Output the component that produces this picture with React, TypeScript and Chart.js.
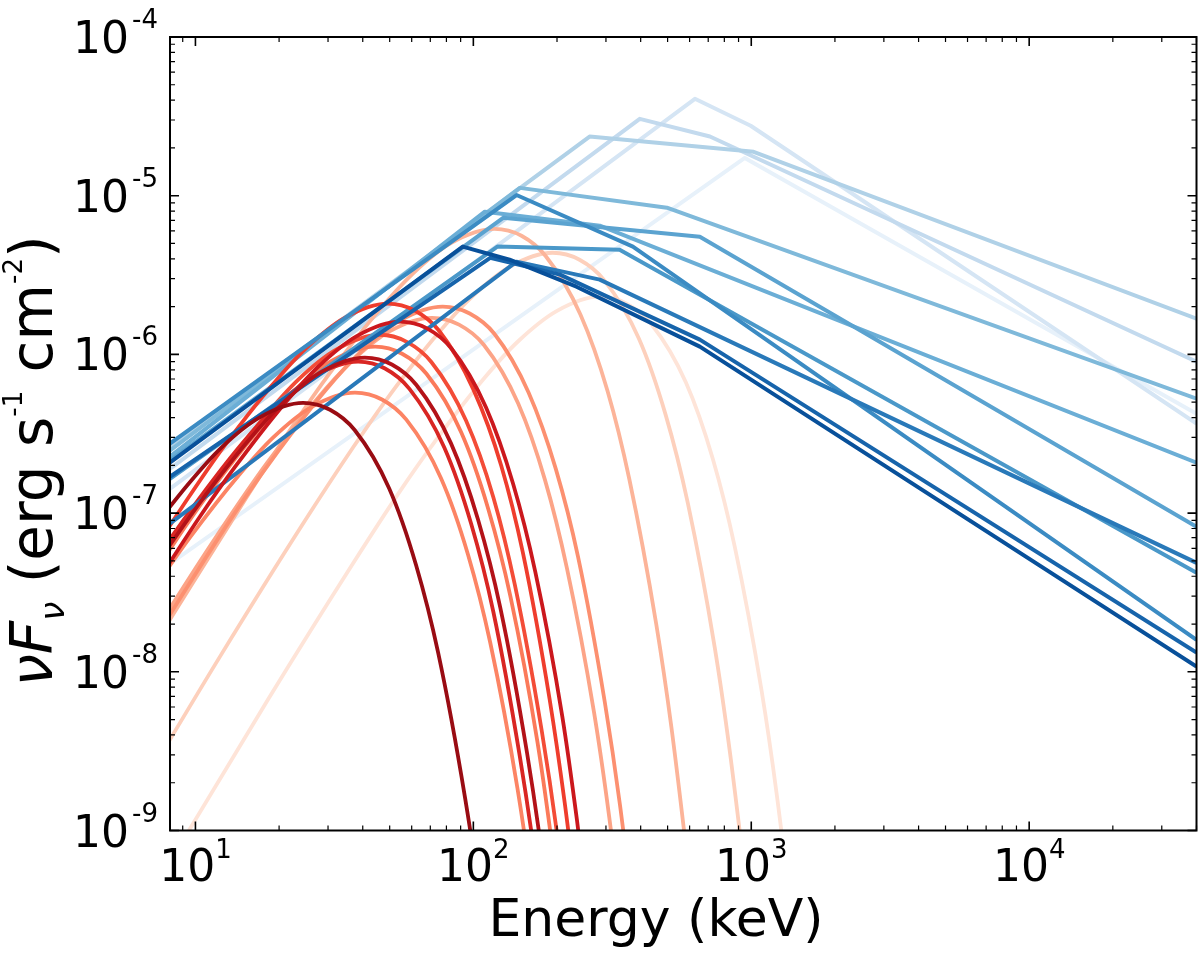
import { useEffect, useRef } from "react";
import { Chart, registerables } from "chart.js";

Chart.register(...registerables);

// Band-function fits: energy (keV) and nuFnu (erg s^-1 cm^-2), earliest bin first
const bandEnergy: number[][] = [
  [8, 948, 40000],
  [8, 627, 995, 40000],
  [8, 397, 710, 40000],
  [8, 262, 1020, 40000],
  [8, 147, 497, 40000],
  [8, 110, 285, 40000],
  [8, 128, 653, 40000],
  [8, 122, 336, 40000],
  [8, 143, 375, 40000],
  [8, 143, 285, 40000],
  [8, 115, 205, 653, 40000],
  [8, 91.6, 135, 235, 653, 40000],
];
const bandFlux: number[][] = [
  [4.73e-8, 1.73e-5, 4.23e-7],
  [1.4e-7, 4.08e-5, 2.76e-5, 3.66e-7],
  [1.87e-7, 3.05e-5, 2.36e-5, 9.0e-7],
  [2.58e-7, 2.36e-5, 1.89e-5, 1.68e-6],
  [2.44e-7, 1.12e-5, 8.4e-6, 5.26e-7],
  [2.23e-7, 7.93e-6, 6.47e-6, 2.08e-7],
  [2.11e-7, 7.26e-6, 5.52e-6, 8.2e-8],
  [1.62e-7, 4.78e-6, 4.57e-6, 4.21e-8],
  [2.7e-7, 1.01e-5, 4.78e-6, 1.59e-8],
  [8.45e-8, 3.84e-6, 2.96e-6, 4.86e-8],
  [1.67e-7, 4.06e-6, 3.18e-6, 1.24e-6, 1.32e-8],
  [2.05e-7, 4.78e-6, 3.95e-6, 2.67e-6, 1.12e-6, 1.08e-8],
];

// blackbody components, hottest (earliest) first
const bbEnergy: number[][] = [
  [4.56, 9.09, 18.2, 36.4, 54.4, 72.7, 109, 145, 200, 285, 356, 436, 582, 727, 872, 1091, 1236, 1454],
  [6.16, 12.3, 24.6, 36.9, 49.2, 73.9, 98.4, 135, 193, 241, 295, 394, 492, 591, 739, 837, 985],
  [7.59, 15.2, 22.7, 30.3, 45.6, 60.7, 83.3, 119, 149, 182, 243, 304, 364, 455, 516, 607],
  [4.53, 9.06, 13.6, 18.1, 27.2, 36.2, 49.7, 71, 88.8, 109, 145, 181, 217, 272, 308, 362],
  [4.95, 9.9, 14.8, 19.8, 29.7, 39.6, 54.3, 77.6, 97.0, 119, 158, 198, 238, 297, 337, 396],
  [4.79, 7.16, 9.56, 14.4, 19.1, 26.3, 37.5, 46.9, 57.4, 76.5, 95.7, 115, 144, 163, 191],
  [5.65, 8.46, 11.3, 17.0, 22.6, 31.0, 44.3, 55.4, 67.8, 90.4, 113, 136, 170, 192, 226],
  [5.88, 8.81, 11.8, 17.7, 23.5, 32.3, 46.1, 57.6, 70.6, 94.1, 118, 141, 176, 200, 235],
  [6.28, 9.4, 12.5, 18.8, 25.1, 34.4, 49.2, 61.5, 75.3, 100, 126, 151, 188, 213, 251],
  [4.91, 7.35, 9.82, 14.7, 19.6, 27.0, 38.5, 48.1, 58.9, 78.6, 98.2, 118, 147, 167, 196],
  [6.95, 10.4, 13.9, 20.9, 27.8, 38.2, 54.5, 68.1, 83.4, 111, 139, 167, 209, 236, 278],
  [5.19, 7.77, 10.4, 15.6, 20.8, 28.5, 40.7, 50.9, 62.3, 83.1, 104, 125, 156, 177, 208],
  [6.22, 9.35, 12.4, 17.1, 24.4, 30.5, 37.4, 49.8, 62.2, 74.7, 93.4, 106, 124],
];
const bbFlux: number[][] = [
  [1.16e-10, 8.87e-10, 6.65e-9, 4.64e-8, 1.37e-7, 2.82e-7, 7.02e-7, 1.21e-6, 1.88e-6, 2.31e-6, 2.09e-6, 1.56e-6, 6.65e-7, 2.2e-7, 6.14e-8, 7.48e-9, 1.67e-9, 1.59e-10],
  [1.68e-9, 1.26e-8, 8.78e-8, 2.59e-7, 5.33e-7, 1.33e-6, 2.29e-6, 3.56e-6, 4.37e-6, 3.95e-6, 2.95e-6, 1.26e-6, 4.16e-7, 1.16e-7, 1.42e-8, 3.16e-9, 3.02e-10],
  [1.78e-8, 1.24e-7, 3.66e-7, 7.54e-7, 1.88e-6, 3.24e-6, 5.04e-6, 6.18e-6, 5.59e-6, 4.17e-6, 1.78e-6, 5.88e-7, 1.64e-7, 2.0e-8, 4.47e-9, 4.26e-10],
  [4.9e-9, 3.42e-8, 1.01e-7, 2.07e-7, 5.17e-7, 8.91e-7, 1.39e-6, 1.7e-6, 1.54e-6, 1.15e-6, 4.9e-7, 1.62e-7, 4.52e-8, 5.51e-9, 1.23e-9, 1.17e-10],
  [5.76e-9, 4.02e-8, 1.19e-7, 2.44e-7, 6.08e-7, 1.05e-6, 1.63e-6, 2.0e-6, 1.81e-6, 1.35e-6, 5.76e-7, 1.9e-7, 5.32e-8, 6.48e-9, 1.45e-9, 1.38e-10],
  [1.16e-8, 3.41e-8, 7.02e-8, 1.75e-7, 3.01e-7, 4.69e-7, 5.75e-7, 5.2e-7, 3.88e-7, 1.66e-7, 5.47e-8, 1.53e-8, 1.86e-9, 4.16e-10, 3.97e-11],
  [2.25e-8, 6.64e-8, 1.37e-7, 3.4e-7, 5.87e-7, 9.13e-7, 1.12e-6, 1.01e-6, 7.55e-7, 3.23e-7, 1.07e-7, 2.98e-8, 3.63e-9, 8.1e-10, 7.73e-11],
  [2.67e-8, 7.89e-8, 1.62e-7, 4.04e-7, 6.97e-7, 1.08e-6, 1.33e-6, 1.2e-6, 8.96e-7, 3.83e-7, 1.26e-7, 3.54e-8, 4.31e-9, 9.62e-10, 9.18e-11],
  [4.2e-8, 1.24e-7, 2.55e-7, 6.35e-7, 1.1e-6, 1.7e-6, 2.09e-6, 1.89e-6, 1.41e-6, 6.02e-7, 1.99e-7, 5.56e-8, 6.77e-9, 1.51e-9, 1.44e-10],
  [1.81e-8, 5.34e-8, 1.1e-7, 2.74e-7, 4.72e-7, 7.34e-7, 9.0e-7, 8.15e-7, 6.07e-7, 2.59e-7, 8.56e-8, 2.39e-8, 2.92e-9, 6.51e-10, 6.21e-11],
  [3.24e-8, 9.55e-8, 1.96e-7, 4.89e-7, 8.44e-7, 1.31e-6, 1.61e-6, 1.46e-6, 1.09e-6, 4.64e-7, 1.53e-7, 4.28e-8, 5.22e-9, 1.16e-9, 1.11e-10],
  [1.92e-8, 5.66e-8, 1.17e-7, 2.9e-7, 5.0e-7, 7.78e-7, 9.55e-7, 8.64e-7, 6.44e-7, 2.75e-7, 9.08e-8, 2.54e-8, 3.09e-9, 6.9e-10, 6.59e-11],
  [6.04e-8, 1.5e-7, 2.59e-7, 4.03e-7, 4.95e-7, 4.48e-7, 3.34e-7, 1.43e-7, 4.71e-8, 1.32e-8, 1.6e-9, 3.58e-10, 3.42e-11],
];

// position of each curve along the colormap
const bandShade = [0.08, 0.17, 0.26, 0.32, 0.45, 0.5, 0.55, 0.6, 0.65, 0.72, 0.8, 0.88];
const bbShade = [0.1, 0.18, 0.27, 0.32, 0.38, 0.42, 0.45, 0.58, 0.62, 0.7, 0.75, 0.83, 0.9];

const BLUES = ["#f7fbff", "#deebf7", "#c6dbef", "#9ecae1", "#6baed6", "#4292c6", "#2171b5", "#08519c", "#08306b"];
const REDS = ["#fff5f0", "#fee0d2", "#fcbba1", "#fc9272", "#fb6a4a", "#ef3b2c", "#cb181d", "#a50f15", "#67000d"];

function shade(stops: string[], t: number) {
  const pos = t * (stops.length - 1);
  const i = Math.min(Math.floor(pos), stops.length - 2);
  const f = pos - i;
  const a = stops[i], b = stops[i + 1];
  const ch = (s: string, k: number) => parseInt(s.slice(1 + 2 * k, 3 + 2 * k), 16);
  const c = [0, 1, 2].map((k) => Math.round(ch(a, k) + (ch(b, k) - ch(a, k)) * f));
  return `rgb(${c[0]},${c[1]},${c[2]})`;
}

function logTicks(min: number, max: number) {
  const out: { v: number; major: boolean; exp: number }[] = [];
  for (let e = Math.floor(Math.log10(min)); e <= Math.ceil(Math.log10(max)); e++) {
    for (let k = 1; k <= 9; k++) {
      const v = Number(`${k}e${e}`);
      if (v >= min * 0.9999 && v <= max * 1.0001) out.push({ v, major: k === 1, exp: e });
    }
  }
  return out;
}

const FONT = "'DejaVu Sans', sans-serif";

const axesPlugin = {
  id: "mplAxes",
  afterDatasetsDraw(chart: any) {
    const { ctx, chartArea: a, scales } = chart;
    const xs = scales.x, ys = scales.y;
    ctx.save();
    ctx.strokeStyle = "#000";
    ctx.fillStyle = "#000";

    // inward ticks on all four sides
    for (const t of logTicks(xs.min, xs.max)) {
      const px = xs.getPixelForValue(t.v);
      const len = t.major ? 9 : 5;
      ctx.lineWidth = t.major ? 1.6 : 1.2;
      ctx.beginPath();
      ctx.moveTo(px, a.bottom); ctx.lineTo(px, a.bottom - len);
      ctx.moveTo(px, a.top); ctx.lineTo(px, a.top + len);
      ctx.stroke();
    }
    for (const t of logTicks(ys.min, ys.max)) {
      const py = ys.getPixelForValue(t.v);
      const len = t.major ? 9 : 5;
      ctx.lineWidth = t.major ? 1.6 : 1.2;
      ctx.beginPath();
      ctx.moveTo(a.left, py); ctx.lineTo(a.left + len, py);
      ctx.moveTo(a.right, py); ctx.lineTo(a.right - len, py);
      ctx.stroke();
    }

    ctx.lineWidth = 2;
    ctx.strokeRect(a.left, a.top, a.right - a.left, a.bottom - a.top);

    const MAIN = `44px ${FONT}`;
    const SUP = `26px ${FONT}`;
    ctx.textBaseline = "alphabetic";
    ctx.textAlign = "left";

    for (const t of logTicks(xs.min, xs.max)) {
      if (!t.major) continue;
      const px = xs.getPixelForValue(t.v);
      ctx.font = MAIN;
      const w1 = ctx.measureText("10").width;
      ctx.font = SUP;
      const sup = String(t.exp);
      const w2 = ctx.measureText(sup).width;
      const x0 = px - (w1 + w2) / 2;
      ctx.font = MAIN;
      ctx.fillText("10", x0, a.bottom + 50.5);
      ctx.font = SUP;
      ctx.fillText(sup, x0 + w1, a.bottom + 27.5);
    }

    for (const t of logTicks(ys.min, ys.max)) {
      if (!t.major) continue;
      const py = ys.getPixelForValue(t.v);
      const sup = String(t.exp);
      ctx.font = MAIN;
      const w1 = ctx.measureText("10").width;
      ctx.font = SUP;
      const w2 = ctx.measureText(sup).width;
      const x0 = a.left - 12 - (w1 + 3 + w2);
      ctx.font = MAIN;
      ctx.fillText("10", x0, py + 16);
      ctx.font = SUP;
      ctx.fillText(sup, x0 + w1 + 3, py - 9);
    }

    // x title
    ctx.font = `52px ${FONT}`;
    ctx.textAlign = "center";
    ctx.fillText("Energy (keV)", 656, a.bottom + 105.5);

    // y title with sub/superscripts, rotated
    const parts = [
      { t: "ν", f: `italic 58px ${FONT}`, dy: 0 },
      { t: "F", f: `italic 58px ${FONT}`, dy: 0 },
      { t: "ν", f: `italic 34px ${FONT}`, dy: 12 },
      { t: " (erg s", f: `58px ${FONT}`, dy: 0 },
      { t: "-1", f: `26px ${FONT}`, dy: -30 },
      { t: " cm", f: `58px ${FONT}`, dy: 0 },
      { t: "-2", f: `26px ${FONT}`, dy: -30 },
      { t: ")", f: `58px ${FONT}`, dy: 0 },
    ];
    ctx.textAlign = "left";
    let total = 0;
    const widths = parts.map((p) => {
      ctx.font = p.f;
      const w = ctx.measureText(p.t).width;
      total += w;
      return w;
    });
    ctx.translate(52, 461);
    ctx.rotate(-Math.PI / 2);
    let x = -total / 2;
    parts.forEach((p, i) => {
      ctx.font = p.f;
      ctx.fillText(p.t, x, p.dy);
      x += widths[i];
    });
    ctx.restore();
  },
};

export default function App() {
  const canvasRef = useRef<HTMLCanvasElement>(null);
  const chartRef = useRef<Chart | null>(null);

  useEffect(() => {
    document.body.style.margin = "0";
    if (!canvasRef.current) return;
    if (chartRef.current) chartRef.current.destroy();

    const blue = bandEnergy.map((es, i) => ({
      data: es.map((e, j) => ({ x: e, y: bandFlux[i][j] })),
      borderColor: shade(BLUES, bandShade[i]),
      borderWidth: 4,
      borderJoinStyle: "round" as const,
      pointRadius: 0,
      tension: 0,
      clip: 0,
      order: Math.round((1 - bandShade[i]) * 1000),
    }));
    const red = bbEnergy.map((es, i) => ({
      data: es.map((e, j) => ({ x: e, y: bbFlux[i][j] })),
      borderColor: shade(REDS, bbShade[i]),
      borderWidth: 3.8,
      pointRadius: 0,
      cubicInterpolationMode: "monotone" as const,
      clip: 0,
      order: Math.round((1 - bbShade[i]) * 1000) - 1,
    }));

    chartRef.current = new Chart(canvasRef.current, {
      type: "line",
      data: { datasets: [...blue, ...red] as any },
      options: {
        animation: false,
        responsive: false,
        events: [],
        layout: { padding: { left: 170, top: 37, right: 3.5, bottom: 131.5 } },
        scales: {
          x: { type: "logarithmic", min: 8.1, max: 40000, display: false },
          y: { type: "logarithmic", min: 1e-9, max: 1e-4, display: false },
        },
        plugins: { legend: { display: false }, tooltip: { enabled: false } },
      },
      plugins: [axesPlugin],
    });

    return () => {
      if (chartRef.current) {
        chartRef.current.destroy();
        chartRef.current = null;
      }
    };
  }, []);

  return <canvas ref={canvasRef} width={1200} height={962} style={{ display: "block" }} />;
}
